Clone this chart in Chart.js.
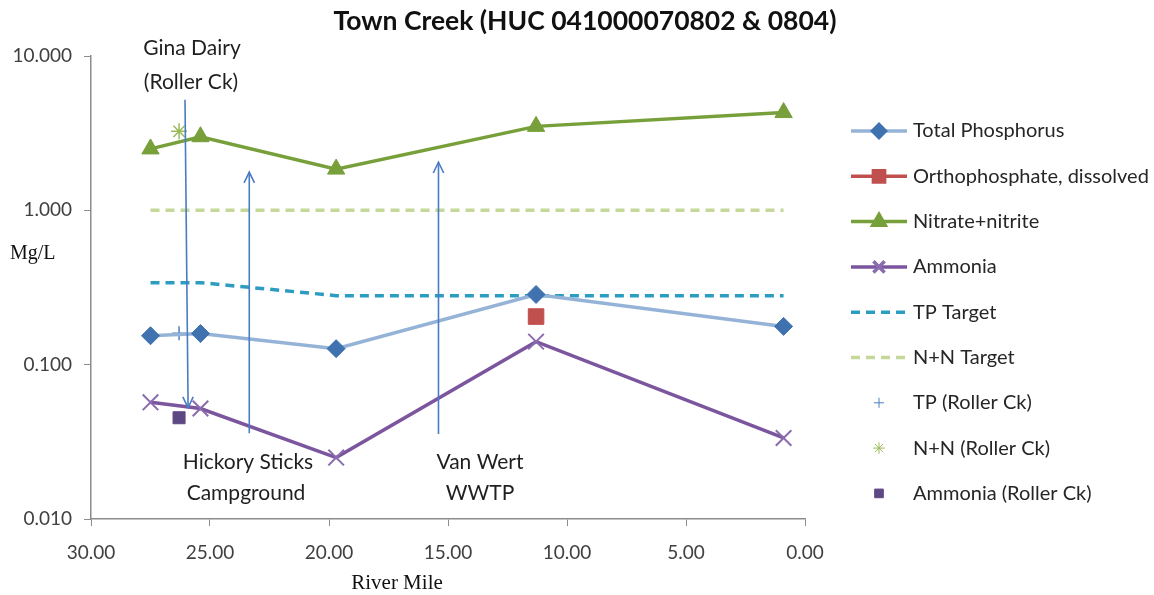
<!DOCTYPE html>
<html>
<head>
<meta charset="utf-8">
<script src="https://cdn.jsdelivr.net/npm/chart.js@4"></script>
<style>
  body { margin: 0; background: #fff; }
  #wrap { width: 1154px; height: 595px; position: relative; }
</style>
</head>
<body>
<div id="wrap"><canvas id="townChart"></canvas></div>
<script>
// ====== DATA ======
const riverMile = [27.5, 25.4, 19.7, 11.3, 0.9];
const totalPhosphorus = [0.154, 0.159, 0.127, 0.285, 0.177];
const nitrateNitrite = [2.5, 3.0, 1.85, 3.5, 4.3];
const ammonia = [0.057, 0.052, 0.025, 0.141, 0.0335];
const tpTarget = [0.34, 0.34, 0.28, 0.28, 0.28];
const nnTarget = [1.0, 1.0, 1.0, 1.0, 1.0];

const orthoMile = [11.3];
const orthophosphate = [0.205];

const rollerMile = [26.3];
const tpRoller = [0.16];
const nnRoller = [3.25];
const ammoniaRoller = [0.0453];

const xTicks = [30, 25, 20, 15, 10, 5, 0];
const yTicks = [0.01, 0.1, 1, 10];

// annotation arrows: start [mile, value] -> head [mile, value]
const arrowNames = ['Gina Dairy', 'Hickory Sticks', 'Van Wert'];
const arrowFrom = [[26.05, 5.2], [23.35, 0.036], [15.4, 0.0355]];
const arrowTo = [[25.92, 0.0526], [23.35, 1.77], [15.4, 2.05]];
const arrowLabels = [['Gina Dairy', '(Roller Ck)'], ['Hickory Sticks', 'Campground'], ['Van Wert', 'WWTP']];
// =================

const FONT = 'Lato, "Open Sans", sans-serif';

function pts(xs, ys) {
    return xs.map((x, i) => ({ x: x, y: ys[i] }));
}

// --- custom legend on the right ---
const sideLegend = {
    id: 'sideLegend',
    afterDraw(chart) {
        const ctx = chart.ctx;
        const top = 131, gap = 45.3;
        chart.data.datasets.forEach((ds, i) => {
            const y = top + i * gap;
            ctx.save();
            if (ds.showLine !== false) {
                ctx.strokeStyle = ds.borderColor;
                ctx.lineWidth = ds.borderWidth;
                ctx.setLineDash(ds.borderDash || []);
                ctx.beginPath();
                ctx.moveTo(851, y);
                ctx.lineTo(907, y);
                ctx.stroke();
            }
            ctx.setLineDash([]);
            if (ds.pointRadius > 0) {
                ctx.fillStyle = ds.pointBackgroundColor;
                ctx.strokeStyle = ds.pointBorderColor;
                Chart.helpers.drawPoint(ctx, {
                    pointStyle: ds.pointStyle,
                    rotation: 0,
                    radius: ds.pointRadius * 0.72,
                    borderWidth: ds.pointBorderWidth
                }, 879, y);
            }
            ctx.fillStyle = '#262626';
            ctx.font = '20px ' + FONT;
            ctx.textBaseline = 'middle';
            ctx.textAlign = 'left';
            ctx.fillText(ds.label, 913, y);
            ctx.restore();
        });
    }
};

// --- arrows, site labels, titles ---
const extras = {
    id: 'extras',
    afterDatasetsDraw(chart) {
        const ctx = chart.ctx;
        const xs = chart.scales.x, ys = chart.scales.y;
        ctx.save();
        ctx.strokeStyle = '#4A7CC4';
        ctx.lineWidth = 1.6;
        arrowNames.forEach((name, i) => {
            const x1 = xs.getPixelForValue(arrowFrom[i][0]);
            const y1 = ys.getPixelForValue(arrowFrom[i][1]);
            const x2 = xs.getPixelForValue(arrowTo[i][0]);
            const y2 = ys.getPixelForValue(arrowTo[i][1]);
            ctx.beginPath();
            ctx.moveTo(x1, y1);
            ctx.lineTo(x2, y2);
            ctx.stroke();
            const a = Math.atan2(y2 - y1, x2 - x1);
            const len = 12;
            ctx.beginPath();
            ctx.moveTo(x2 - len * Math.cos(a - 0.45), y2 - len * Math.sin(a - 0.45));
            ctx.lineTo(x2, y2);
            ctx.lineTo(x2 - len * Math.cos(a + 0.45), y2 - len * Math.sin(a + 0.45));
            ctx.stroke();
        });

        ctx.fillStyle = '#1f1f1f';
        ctx.font = '21px ' + FONT;
        ctx.textAlign = 'center';
        ctx.textBaseline = 'middle';
        ctx.fillText(arrowLabels[0][0], 192, 48);
        ctx.fillText(arrowLabels[0][1], 191, 82);
        ctx.fillText(arrowLabels[1][0], 248, 462);
        ctx.fillText(arrowLabels[1][1], 246, 493);
        ctx.fillText(arrowLabels[2][0], 480, 462);
        ctx.fillText(arrowLabels[2][1], 480, 493);

        ctx.font = 'bold 26.5px ' + FONT;
        ctx.fillStyle = '#111';
        ctx.fillText('Town Creek (HUC 041000070802 & 0804)', 585, 21);

        ctx.font = '20px "Liberation Serif", "DejaVu Serif", serif';
        ctx.fillStyle = '#111';
        ctx.textAlign = 'left';
        ctx.fillText('Mg/L', 10, 254);
        ctx.textAlign = 'center';
        ctx.font = '21px "Liberation Serif", "DejaVu Serif", serif';
        ctx.fillText('River Mile', 397, 583);
        ctx.restore();
    }
};

const ctx = document.getElementById('townChart').getContext('2d');
new Chart(ctx, {
    type: 'line',
    data: {
        datasets: [
            {
                label: 'Total Phosphorus',
                data: pts(riverMile, totalPhosphorus),
                borderColor: '#95B3D7', borderWidth: 3.5,
                pointStyle: 'rectRot', pointRadius: 9,
                pointBackgroundColor: '#3F72AF', pointBorderColor: '#3F72AF', pointBorderWidth: 1
            },
            {
                label: 'Orthophosphate, dissolved',
                data: pts(orthoMile, orthophosphate),
                borderColor: '#C0504D', borderWidth: 3.5,
                pointStyle: 'rect', pointRadius: 11,
                pointBackgroundColor: '#C0504D', pointBorderColor: '#C0504D', pointBorderWidth: 1
            },
            {
                label: 'Nitrate+nitrite',
                data: pts(riverMile, nitrateNitrite),
                borderColor: '#77A03B', borderWidth: 3.5,
                pointStyle: 'triangle', pointRadius: 10,
                pointBackgroundColor: '#77A03B', pointBorderColor: '#77A03B', pointBorderWidth: 1
            },
            {
                label: 'Ammonia',
                data: pts(riverMile, ammonia),
                borderColor: '#7B559E', borderWidth: 3.5,
                pointStyle: 'crossRot', pointRadius: 11,
                pointBackgroundColor: '#8A6BAE', pointBorderColor: '#8A6BAE', pointBorderWidth: 2
            },
            {
                label: 'TP Target',
                data: pts(riverMile, tpTarget),
                borderColor: '#2C9DC0', borderWidth: 3.5, borderDash: [9, 6],
                pointRadius: 0
            },
            {
                label: 'N+N Target',
                data: pts(riverMile, nnTarget),
                borderColor: '#C4D89A', borderWidth: 3.5, borderDash: [9, 6],
                pointRadius: 0
            },
            {
                label: 'TP (Roller Ck)',
                data: pts(rollerMile, tpRoller),
                showLine: false,
                pointStyle: 'cross', pointRadius: 7,
                pointBackgroundColor: '#4F81BD', pointBorderColor: '#4F81BD', pointBorderWidth: 1.5
            },
            {
                label: 'N+N (Roller Ck)',
                data: pts(rollerMile, nnRoller),
                showLine: false,
                pointStyle: 'star', pointRadius: 8,
                pointBackgroundColor: '#9BBB59', pointBorderColor: '#9BBB59', pointBorderWidth: 1.5
            },
            {
                label: 'Ammonia (Roller Ck)',
                data: pts(rollerMile, ammoniaRoller),
                showLine: false,
                pointStyle: 'rect', pointRadius: 8.5,
                pointBackgroundColor: '#5E4884', pointBorderColor: '#5E4884', pointBorderWidth: 1
            }
        ]
    },
    options: {
        responsive: true,
        maintainAspectRatio: false,
        animation: false,
        layout: { padding: { left: 0, top: 56, right: 349, bottom: 0 } },
        scales: {
            x: {
                type: 'linear', reverse: true, min: 0, max: 30,
                afterBuildTicks: s => { s.ticks = xTicks.map(v => ({ value: v })); },
                afterFit: s => { s.height = 76; },
                ticks: {
                    callback: v => Number(v).toFixed(2),
                    font: { family: FONT, size: 19 }, color: '#404040',
                    padding: 15, maxRotation: 0, autoSkip: false
                },
                grid: { drawOnChartArea: false, drawTicks: true, tickLength: 7, color: '#8C8C8C' },
                border: { color: '#8C8C8C', width: 1.5 }
            },
            y: {
                type: 'logarithmic', min: 0.01, max: 10,
                afterBuildTicks: s => { s.ticks = yTicks.map(v => ({ value: v })); },
                afterFit: s => { s.width = 91; },
                ticks: {
                    callback: v => Number(v).toFixed(3),
                    font: { family: FONT, size: 19 }, color: '#404040',
                    padding: 12, autoSkip: false
                },
                grid: { drawOnChartArea: false, drawTicks: true, tickLength: 7, color: '#8C8C8C' },
                border: { color: '#8C8C8C', width: 1.5 }
            }
        },
        plugins: {
            legend: { display: false },
            title: { display: false },
            tooltip: { enabled: false }
        }
    },
    plugins: [extras, sideLegend]
});
</script>
</body>
</html>
